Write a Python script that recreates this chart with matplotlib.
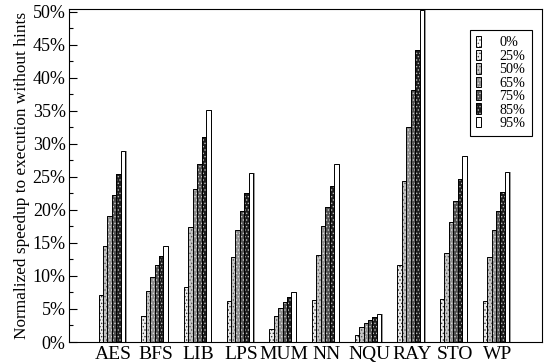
import numpy as np
import matplotlib
matplotlib.use('Agg')
import matplotlib.pyplot as plt
from matplotlib.ticker import MultipleLocator, FuncFormatter

plt.rcParams['font.family'] = ['Liberation Serif', 'DejaVu Serif']
plt.rcParams['hatch.linewidth'] = 0.6

benchmarks = ['AES', 'BFS', 'LIB', 'LPS', 'MUM', 'NN', 'NQU', 'RAY', 'STO', 'WP']
hints = ['0%', '25%', '50%', '65%', '75%', '85%', '95%']

# speedup in percent, one list per hint level
s0 = [0, 0, 0, 0, 0, 0, 0, 0, 0, 0]
s25 = [7.1, 3.9, 8.4, 6.2, 2.0, 6.3, 1.1, 11.6, 6.5, 6.2]
s50 = [14.5, 7.7, 17.4, 12.8, 4.0, 13.1, 2.2, 24.3, 13.5, 12.8]
s65 = [19.0, 9.9, 23.1, 17.0, 5.2, 17.5, 2.9, 32.5, 18.1, 17.0]
s75 = [22.2, 11.6, 26.9, 19.8, 6.0, 20.5, 3.4, 38.2, 21.3, 19.8]
s85 = [25.5, 13.0, 31.1, 22.6, 6.8, 23.6, 3.8, 44.2, 24.6, 22.7]
s95 = [28.9, 14.6, 35.1, 25.6, 7.6, 26.9, 4.3, 50.3, 28.1, 25.7]
series = [s0, s25, s50, s65, s75, s85, s95]

fills = ['white', '#ececec', '#c4c4c4', '#8c8c8c', '#505050', '#1c1c1c', 'white']
dots = ['#555555', '#333333', '#555555', '#dddddd', '#cccccc', '#bbbbbb', None]

fig = plt.figure(figsize=(5.45, 3.64), dpi=100)
ax = fig.add_axes([0.1257, 0.0604, 0.8697, 0.9149])

x = np.arange(1, len(benchmarks) + 1)
w = 0.104
handles = []
for j, vals in enumerate(series):
    pos = x + (j - 3) * w
    if j == 6:
        # grey drop shadow on the right of the last bar
        ax.bar(pos + 0.35 * w, vals, w, color='#999999', linewidth=0, zorder=1)
    if dots[j] is None:
        f = ax.bar(pos, vals, w, color=fills[j], linewidth=0, zorder=2)
    else:
        f = ax.bar(pos, vals, w, facecolor=fills[j], edgecolor=dots[j],
                   hatch='.....', linewidth=0, zorder=2)
    o = ax.bar(pos, vals, w, fill=False, edgecolor='black', linewidth=0.7, zorder=3)
    handles.append((f, o))

ax.set_xlim(0.037, 11.14)
ax.set_ylim(0, 50.4)
ax.set_xticks(x + 0.75 * w)
ax.set_xticklabels(benchmarks, fontsize=14)
ax.tick_params(axis='x', length=0, pad=3)

ax.yaxis.set_major_locator(MultipleLocator(5))
ax.yaxis.set_minor_locator(MultipleLocator(2.5))
ax.yaxis.set_major_formatter(FuncFormatter(lambda v, p: '%d%%' % round(v)))
ax.tick_params(axis='y', which='major', direction='in', length=6, width=0.8, labelsize=13, pad=2)
ax.tick_params(axis='y', which='minor', direction='in', length=3, width=0.8)
ax.set_ylabel('Normalized speedup to execution without hints', fontsize=12.4, labelpad=2)

for sp in ax.spines.values():
    sp.set_linewidth(0.8)

leg = ax.legend(handles, hints, loc='upper right', bbox_to_anchor=(0.977, 0.937),
                fontsize=10.2, handlelength=0.33, handleheight=0.75, handletextpad=1.3,
                labelspacing=0.02, borderpad=0.45, fancybox=False, framealpha=1,
                borderaxespad=0)
leg.get_frame().set_edgecolor('black')
leg.get_frame().set_linewidth(0.8)

fig.savefig('out.png', dpi=100)
